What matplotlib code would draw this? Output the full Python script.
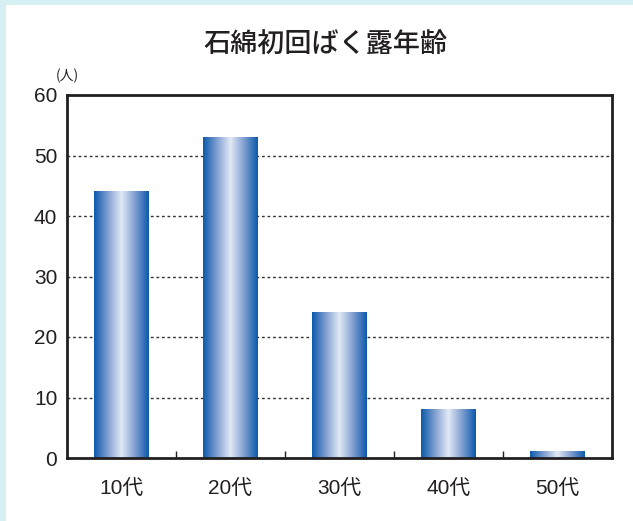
import matplotlib
matplotlib.use("Agg")
import matplotlib.pyplot as plt
import numpy as np
from matplotlib.colors import LinearSegmentedColormap
from matplotlib.patches import Rectangle

plt.rcParams['font.family'] = ['Noto Sans CJK JP', 'DejaVu Sans']

categories = ['10代', '20代', '30代', '40代', '50代']
counts = [44, 53, 24, 8, 1]
yticks = [0, 10, 20, 30, 40, 50, 60]

W, H = 633, 521
fig = plt.figure(figsize=(W / 100, H / 100), dpi=100, facecolor='#d6eff3')
# white panel inside the light blue frame
fig.patches.append(Rectangle((6 / W, 0), 1 - 6 / W, 1 - 5 / H, transform=fig.transFigure,
                             facecolor='white', edgecolor='none', zorder=-5))

ax = fig.add_axes([67 / W, (H - 458) / H, 545 / W, 363 / H])
ax.set_facecolor('white')

# horizontal gradient: dark blue edges, pale centre
cmap = LinearSegmentedColormap.from_list('bar', ['#0b5aab', '#7f9ed0', '#e2eaf6', '#7f9ed0', '#0b5aab'])
grad = np.linspace(0, 1, 256).reshape(1, -1)

x = np.arange(len(categories))
width = 0.5
for xi, v in zip(x, counts):
    ax.imshow(grad, cmap=cmap, aspect='auto', extent=(xi - width / 2, xi + width / 2, 0, v),
              interpolation='bicubic', zorder=2)

ax.set_xlim(-0.5, len(categories) - 0.5)
ax.set_ylim(0, 60)

for y in yticks[1:-1]:
    ax.axhline(y, color='#333333', linestyle=(0, (2, 2)), linewidth=1, zorder=1)

for side in ['left', 'right', 'top', 'bottom']:
    ax.spines[side].set_linewidth(2)
    ax.spines[side].set_color('#231f20')

label_font = ['Liberation Sans', 'Noto Sans CJK JP', 'DejaVu Sans']
ax.set_yticks(yticks)
ax.set_yticklabels([str(t) for t in yticks], fontsize=15, color='#231f20', family=label_font)
ax.tick_params(axis='y', length=0, pad=7)

ax.set_xticks(x)
ax.set_xticklabels(categories, fontsize=15, color='#231f20', family=label_font)
ax.tick_params(axis='x', length=0, pad=15)
ax.set_xticks(x[:-1] + 0.5, minor=True)
ax.tick_params(axis='x', which='minor', direction='in', length=5, width=1, color='#231f20')

fig.text(325 / W, 1 - 45 / H, '石綿初回ばく露年齢', ha='center', va='center', fontsize=19.5,
         fontweight='medium', color='#231f20')
fig.text(67 / W, 1 - 76 / H, '(人)', ha='center', va='center', fontsize=10, color='#231f20')

fig.savefig('out.png', dpi=100, facecolor=fig.get_facecolor())
